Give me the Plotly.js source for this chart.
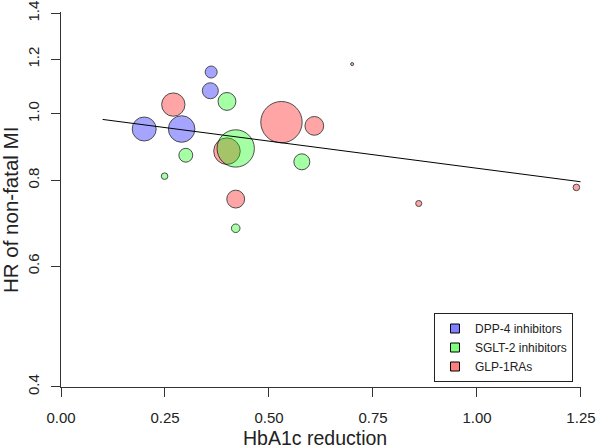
<!DOCTYPE html>
<html>
<head>
<meta charset="utf-8">
<script src="https://cdn.plot.ly/plotly-3.0.1.min.js"></script>
<style>html,body{margin:0;padding:0;background:#fff;}#chart{width:597px;height:448px;}</style>
</head>
<body>
<div id="chart"></div>
<script>
// DPP-4 inhibitors
var dppX = [0.361, 0.359, 0.200, 0.290];
var dppY = [1.150, 1.080, 0.950, 0.950];
var dppW = [9, 16, 36, 44];
// SGLT-2 inhibitors
var sgltX = [0.399, 0.420, 0.300, 0.249, 0.579, 0.420];
var sgltY = [1.042, 0.890, 0.870, 0.811, 0.851, 0.681];
var sgltW = [20, 87, 12, 2.7, 16, 4.6];
// GLP-1RAs
var glpX = [0.270, 0.530, 0.609, 0.399, 0.420, 0.860, 1.239, 0.700];
var glpY = [1.031, 0.972, 0.960, 0.882, 0.751, 0.740, 0.781, 1.181];
var glpW = [34, 107, 22, 44, 20, 2.3, 2.7, 0.6];
// meta-regression line
var fitX = [0.100, 1.249];
var fitY = [0.981, 0.796];

var xTicks = [0, 0.25, 0.5, 0.75, 1.0, 1.25];
var xTickText = ['0.00', '0.25', '0.50', '0.75', '1.00', '1.25'];
var yTicks = [0.4, 0.6, 0.8, 1.0, 1.2, 1.4];
var yTickText = ['0.4', '0.6', '0.8', '1.0', '1.2', '1.4'];

var names = ['DPP-4 inhibitors', 'SGLT-2 inhibitors', 'GLP-1RAs'];
var colors = ['rgba(0,0,255,0.5)', 'rgba(0,255,0,0.5)', 'rgba(255,0,0,0.5)'];

function bubbles(x, y, w, c) {
  return {
    type: 'scatter', mode: 'markers', x: x, y: y, showlegend: false, hoverinfo: 'x+y',
    cliponaxis: false,
    marker: {size: w, sizemode: 'area', sizeref: 1/8, color: c, line: {color: '#000', width: 1}}
  };
}
function legendItem(name, c) {
  return {
    type: 'scatter', mode: 'markers', x: [null], y: [null], name: name, showlegend: true,
    marker: {symbol: 'square', size: 9, color: c, line: {color: '#000', width: 1}}
  };
}

var traces = [
  bubbles(glpX, glpY, glpW, colors[2]),
  bubbles(dppX, dppY, dppW, colors[0]),
  bubbles(sgltX, sgltY, sgltW, colors[1]),
  {type: 'scatter', mode: 'lines', x: fitX, y: fitY, showlegend: false, hoverinfo: 'skip',
   line: {color: '#000', width: 1}},
  legendItem(names[0], colors[0]),
  legendItem(names[1], colors[1]),
  legendItem(names[2], colors[2])
];

var font = 'Liberation Sans, Arial, sans-serif';
var eps = 2e-3;
var layout = {
  width: 597, height: 448,
  margin: {l: 61, r: 16, t: 12, b: 61},
  paper_bgcolor: '#fff', plot_bgcolor: '#fff',
  font: {family: font, color: '#222', size: 15},
  showlegend: true,
  legend: {
    x: 0.9846, y: 0.0133, xanchor: 'right', yanchor: 'bottom',
    bordercolor: '#222', borderwidth: 1, bgcolor: '#fff',
    font: {family: font, size: 12, color: '#222'},
    itemwidth: 30, tracegroupgap: 0
  },
  xaxis: {
    range: [0, 1.25 + 1e-4], tickvals: xTicks, ticktext: xTickText,
    showgrid: false, zeroline: false, showline: true, linecolor: '#333', linewidth: 1,
    ticks: 'outside', ticklen: 9, tickcolor: '#333', tickwidth: 1,
    ticklabelstandoff: 8, ticklabeloverflow: 'allow',
    tickfont: {family: font, size: 15, color: '#222'},
    automargin: false
  },
  yaxis: {
    type: 'log', range: [Math.log10(0.4) - 1e-4, Math.log10(1.4) + eps], tickvals: yTicks, ticktext: yTickText,
    tickangle: -90,
    showgrid: false, zeroline: false, showline: true, linecolor: '#333', linewidth: 1,
    ticks: 'outside', ticklen: 9, tickcolor: '#333', tickwidth: 1,
    ticklabelstandoff: 6, ticklabeloverflow: 'allow',
    tickfont: {family: font, size: 15, color: '#222'},
    automargin: false
  },
  annotations: [
    {text: 'HbA1c reduction', xref: 'paper', yref: 'paper', x: 0.4875, y: -0.137,
     xanchor: 'center', yanchor: 'middle', showarrow: false,
     font: {family: font, size: 19.5, color: '#222'}},
    {text: 'HR of non-fatal MI', xref: 'paper', yref: 'paper', x: -0.0981, y: 0.472,
     xanchor: 'center', yanchor: 'middle', showarrow: false, textangle: -90,
     font: {family: font, size: 20.5, color: '#222'}}
  ]
};

Plotly.newPlot('chart', traces, layout, {displayModeBar: false, staticPlot: true});
</script>
</body>
</html>
